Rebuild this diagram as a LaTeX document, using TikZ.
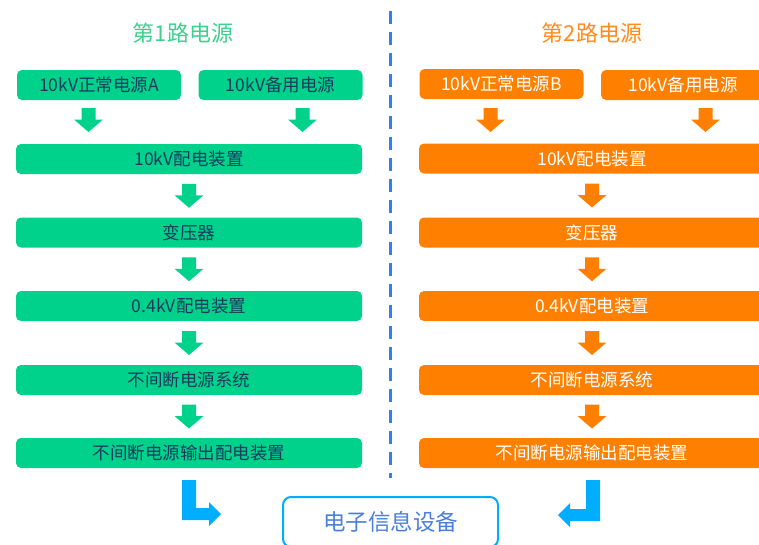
\documentclass[tikz,border=0pt]{standalone}
\usepackage{fontspec}
\setmainfont{Noto Sans CJK SC}
\usetikzlibrary{calc}
\definecolor{gbox}{HTML}{00D28C}
\definecolor{gtitle}{HTML}{3FD090}
\definecolor{gtext}{HTML}{1B3A5C}
\definecolor{obox}{HTML}{FF8000}
\definecolor{otitle}{HTML}{FF8C1E}
\definecolor{barrow}{HTML}{00AEFF}
\definecolor{dashc}{HTML}{2F80F0}
\definecolor{btext}{HTML}{4A7FDC}
\tikzset{
  box/.style={rounded corners=5pt, minimum height=30pt, inner sep=0pt, font=\fontsize{17.5}{17.5}\selectfont},
  gb/.style={box, fill=gbox, text=gtext},
  ob/.style={box, fill=obox, text=white},
  ttl/.style={font=\fontsize{22}{22}\selectfont, inner sep=0pt},
  dnarrow/.pic={\fill (-7,-12) -- (7,-12) -- (7,-0.5) -- (14.5,-0.5) -- (0,12) -- (-14.5,-0.5) -- (-7,-0.5) -- cycle;}
}
\begin{document}
\begin{tikzpicture}[x=1pt,y=-1pt]
\clip (0,0) rectangle (759,544);
\fill[white] (0,0) rectangle (759,544);
% dashed divider
\draw[dashc, line width=3pt, dash pattern=on 13pt off 8pt] (390.5,11) -- (390.5,478);
% titles
\node[ttl, text=gtitle] (t1) at (183,33) {第1路电源};
\node[ttl, text=otitle] (t2) at (592,33) {第2路电源};
% left column
\node[gb, minimum width=164pt] (la) at (99,85) {10kV正常电源A};
\node[gb, minimum width=164pt] (lb) at (280.5,85) {10kV备用电源};
\node[gb, minimum width=346pt] (l1) at (189,159) {10kV配电装置};
\node[gb, minimum width=346pt] (l2) at (189,232.5) {变压器};
\node[gb, minimum width=346pt] (l3) at (189,306) {0.4kV配电装置};
\node[gb, minimum width=346pt] (l4) at (189,380) {不间断电源系统};
\node[gb, minimum width=346pt] (l5) at (189,453) {不间断电源输出配电装置};
% right column
\node[ob, minimum width=164pt] (ra) at (501.5,84) {10kV正常电源B};
\node[ob, minimum width=164pt] (rb) at (683,85) {10kV备用电源};
\node[ob, minimum width=346pt] (r1) at (592,158.5) {10kV配电装置};
\node[ob, minimum width=346pt] (r2) at (592,232.5) {变压器};
\node[ob, minimum width=346pt] (r3) at (592,306) {0.4kV配电装置};
\node[ob, minimum width=346pt] (r4) at (592,380) {不间断电源系统};
\node[ob, minimum width=346pt] (r5) at (592,453) {不间断电源输出配电装置};
% bottom box
\node[draw=barrow, line width=2pt, rounded corners=8pt, fill=white, minimum width=215pt, minimum height=50pt, inner sep=0pt, text=btext, font=\fontsize{22.5}{22.5}\selectfont] (eq) at (390.5,522) {电子信息设备};
% green arrows
\pic[gbox] at (88.5,120) {dnarrow};
\pic[gbox] at (302.5,120) {dnarrow};
\pic[gbox] at ($(l1.south)!0.5!(l2.north)$) {dnarrow};
\pic[gbox] at ($(l2.south)!0.5!(l3.north)$) {dnarrow};
\pic[gbox] at ($(l3.south)!0.5!(l4.north)$) {dnarrow};
\pic[gbox] at ($(l4.south)!0.5!(l5.north)$) {dnarrow};
% orange arrows
\pic[obox] at (490.5,120) {dnarrow};
\pic[obox] at (705.5,120) {dnarrow};
\pic[obox] at ($(r1.south)!0.5!(r2.north)$) {dnarrow};
\pic[obox] at ($(r2.south)!0.5!(r3.north)$) {dnarrow};
\pic[obox] at ($(r3.south)!0.5!(r4.north)$) {dnarrow};
\pic[obox] at ($(r4.south)!0.5!(r5.north)$) {dnarrow};
% bent arrows
\fill[barrow] (182,480) -- (196,480) -- (196,508) -- (209,508) -- (209,502) -- (221,514) -- (209,526) -- (209,520) -- (182,520) -- cycle;
\fill[barrow] (600,480) -- (586,480) -- (586,509) -- (570,509) -- (570,503) -- (558,515) -- (570,527) -- (570,521) -- (600,521) -- cycle;
\end{tikzpicture}
\end{document}
